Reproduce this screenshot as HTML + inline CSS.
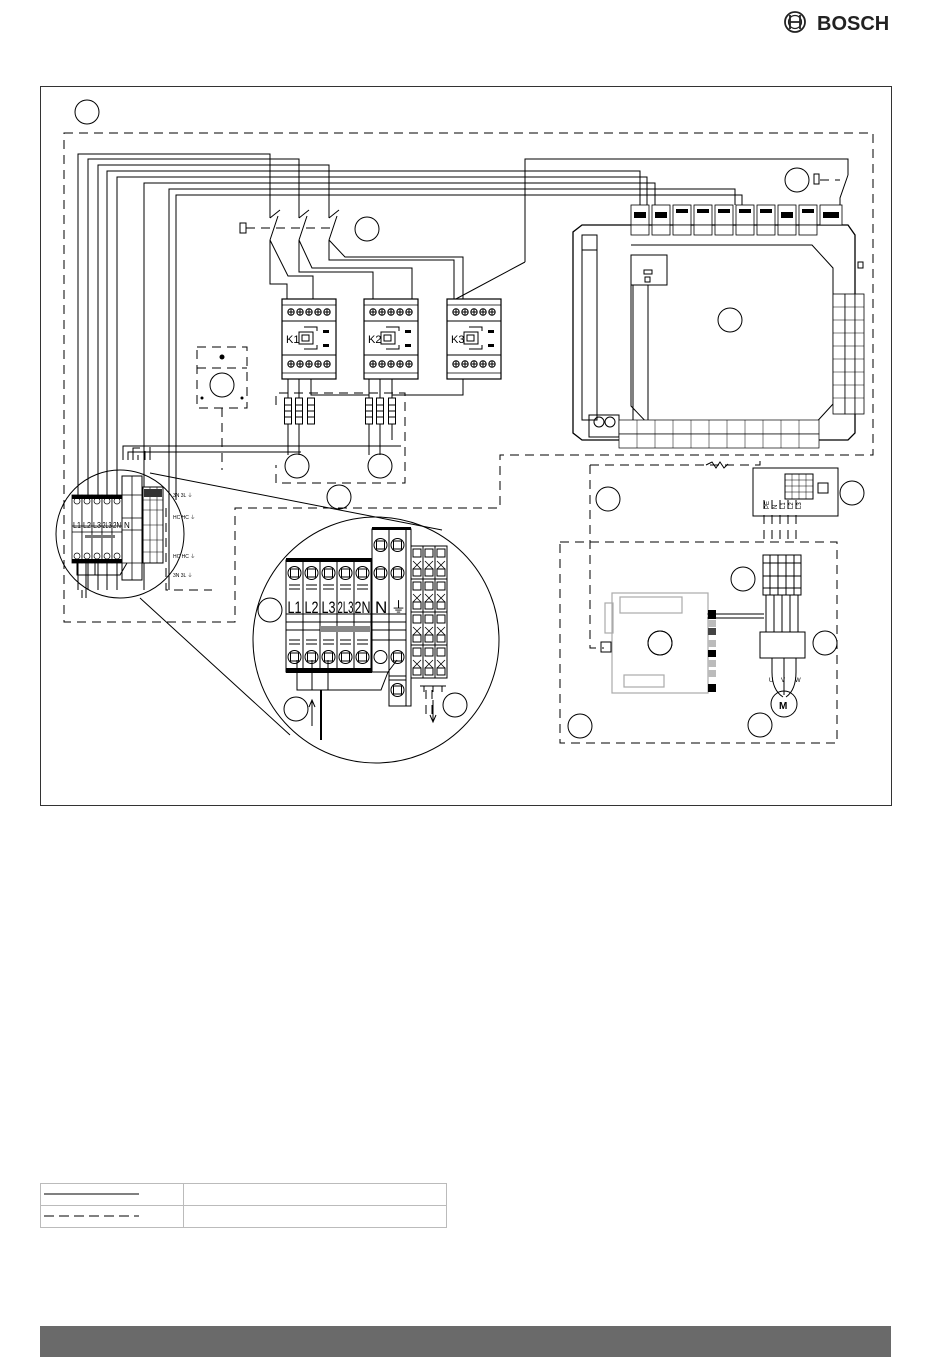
<!DOCTYPE html>
<html><head><meta charset="utf-8"><style>
html,body{margin:0;padding:0;background:#fff}
svg{display:block}
text{font-family:"Liberation Sans",sans-serif}
</style></head><body>
<svg width="950" height="1367" viewBox="0 0 950 1367" xmlns="http://www.w3.org/2000/svg">
<defs>
<g id="scr"><circle r="3.2" fill="none" stroke="#000" stroke-width="1"/><path d="M-3 0H3M0 -3V3" stroke="#000" stroke-width="1"/></g>
<g id="tb"><rect x="0" y="0" width="17" height="112" fill="#fff" stroke="#000" stroke-width="1"/><circle cx="8.5" cy="13" r="6.5" fill="none" stroke="#000"/><rect x="4.5" y="9" width="8" height="8" fill="none" stroke="#000"/><path d="M3 25H14M3 29H14" stroke="#000"/><path d="M0 54H17M0 62H17M0 70H17" stroke="#000"/><path d="M3 80H14M3 84H14" stroke="#000"/><circle cx="8.5" cy="97" r="6.5" fill="none" stroke="#000"/><rect x="4.5" y="93" width="8" height="8" fill="none" stroke="#000"/></g>
<g id="stb"><rect x="0" y="0" width="10" height="68" fill="#fff" stroke="#000" stroke-width="0.8"/><circle cx="5" cy="6" r="3" fill="none" stroke="#000" stroke-width="0.7"/><path d="M0 31H10M0 37H10" stroke="#000" stroke-width="0.7"/><circle cx="5" cy="61" r="3" fill="none" stroke="#000" stroke-width="0.7"/></g>
<g id="rtb"><rect x="0" y="0" width="12" height="33" fill="#fff" stroke="#000"/><rect x="2" y="3" width="8" height="8" fill="none" stroke="#000"/><path d="M2 15L10 23M10 15L2 23" stroke="#000" stroke-width="0.8"/><rect x="2" y="23" width="8" height="7" fill="none" stroke="#000"/></g>
<g id="fuse"><rect x="-3.5" y="0" width="7" height="26" fill="#fff" stroke="#000"/><path d="M-3.5 7H3.5M-3.5 13H3.5M-3.5 19H3.5" stroke="#000"/></g>
<g id="cont"><rect x="0" y="0" width="54" height="80" fill="#fff" stroke="#000" stroke-width="1.2"/><path d="M0 6H54M0 74H54" stroke="#000" stroke-width="0.8"/><use href="#scr" x="9" y="13"/><use href="#scr" x="18" y="13"/><use href="#scr" x="27" y="13"/><use href="#scr" x="36" y="13"/><use href="#scr" x="45" y="13"/><use href="#scr" x="9" y="65"/><use href="#scr" x="18" y="65"/><use href="#scr" x="27" y="65"/><use href="#scr" x="36" y="65"/><use href="#scr" x="45" y="65"/><path d="M0 22H54M0 56H54" stroke="#000"/><rect x="17" y="33" width="14" height="12" fill="none" stroke="#000"/><rect x="20" y="36" width="7" height="6" fill="none" stroke="#000"/><path d="M22 28H35V32M22 50H35V46" fill="none" stroke="#000"/><rect x="41" y="31" width="6" height="3" fill="#000"/><rect x="41" y="45" width="6" height="3" fill="#000"/></g>
</defs>

<circle cx="795" cy="22" r="10" fill="none" stroke="#222" stroke-width="1.8"/>
<path d="M790 15V29M800 15V29M790 22H800" stroke="#222" stroke-width="1.8" fill="none"/>
<circle cx="795" cy="22" r="6.5" fill="none" stroke="#222" stroke-width="1.2"/>
<text x="817" y="30" font-size="20" font-weight="bold" fill="#222">BOSCH</text>

<rect x="40.5" y="86.5" width="851" height="719" fill="none" stroke="#333" stroke-width="1"/>

<g fill="none" stroke="#000" stroke-width="1">
<circle cx="87" cy="112" r="12"/><circle cx="367" cy="229" r="12"/><circle cx="797" cy="180" r="12"/>
<circle cx="730" cy="320" r="12"/><circle cx="222" cy="385" r="12"/><circle cx="297" cy="466" r="12"/>
<circle cx="380" cy="466" r="12"/><circle cx="339" cy="497" r="12"/><circle cx="608" cy="499" r="12"/>
<circle cx="852" cy="493" r="12"/><circle cx="743" cy="579" r="12"/><circle cx="270" cy="610" r="12"/>
<circle cx="825" cy="643" r="12"/><circle cx="660" cy="643" r="12"/><circle cx="296" cy="709" r="12"/>
<circle cx="455" cy="705" r="12"/><circle cx="580" cy="726" r="12"/><circle cx="760" cy="725" r="12"/>

<g stroke-dasharray="9,6">
<path d="M64 133H873V455H500V508H235V622H64Z"/>
<path d="M276 405V393H405V483H276V465"/>
<path d="M166 508V590H212"/>
<path d="M560 542H837V743H560Z"/>
<path d="M590 465H760V455M590 465V648H604"/>
<path d="M197 347H247V408H197Z M197 368H247"/>
<path d="M222 408V470"/>
<path d="M246 228H330"/>
<path d="M820 180H840"/>
<path d="M764 500V540M772 500V540M780 500V540M788 500V540M796 500V540"/>
<path d="M426 690V720M432 690V720"/>
</g>

<path d="M78 590V154H270V218M88 590V159H299V218M98 590V165H329V218M107 590V171H640V205M117 590V177H647V205M144 590V183H655V205M169 590V189H735V205M176 500V195H742V205"/>
<path d="M525 262V159H848V175M454 300L525 262"/>
<path d="M848 175L840 198V205"/>
<path d="M270 218L280 210M270 240L278 216M299 218L309 210M299 240L307 216M329 218L339 210M329 240L337 216"/>
<rect x="240" y="223" width="6" height="10"/>
<path d="M270 240V284H287V299M270 240L288 276H313V299M299 240V272H373V299M299 240L312 268H412V299M329 240V260H454V299M329 240L345 257H463V299"/>
<path d="M288 379V455M299 379V455M311 379V395H369M369 379V455M380 379V455M392 379V395H463V379M392 395V440"/>
<path d="M123 460V446H401M128 460V452H301M133 460V448H140M138 460V455M145 460V451M150 460V447"/>
</g>
<use href="#fuse" x="288" y="398"/><use href="#fuse" x="299" y="398"/><use href="#fuse" x="311" y="398"/>
<use href="#fuse" x="369" y="398"/><use href="#fuse" x="380" y="398"/><use href="#fuse" x="392" y="398"/>
<use href="#cont" x="282" y="299"/><use href="#cont" x="364" y="299"/><use href="#cont" x="447" y="299"/>
<text x="286" y="343" font-size="11">K1</text><text x="368" y="343" font-size="11">K2</text><text x="451" y="343" font-size="11">K3</text>
<circle cx="222" cy="357" r="2.5"/><circle cx="202" cy="398" r="1.5"/><circle cx="242" cy="398" r="1.5"/>

<g fill="none" stroke="#000" stroke-width="1">
<path d="M582 225H848L855 235V433L848 440H582L573 433V232Z" stroke-width="1.3"/>
<path d="M582 235H597V420H582Z M582 250H597"/>
<path d="M631 245H812L833 268V404L812 427H651L631 406V280"/>
<rect x="631" y="255" width="36" height="30"/>
<rect x="644" y="270" width="8" height="4"/><rect x="645" y="277" width="5" height="5"/>
<path d="M633 285V420M648 285V420"/>
<rect x="589" y="415" width="30" height="22"/>
<circle cx="599" cy="422" r="5"/><circle cx="610" cy="422" r="5"/>
</g>
<g stroke="#000" stroke-width="0.8" fill="#fff">
<rect x="631" y="205" width="18" height="20"/><rect x="652" y="205" width="18" height="20"/><rect x="673" y="205" width="18" height="20"/><rect x="694" y="205" width="18" height="20"/><rect x="715" y="205" width="18" height="20"/><rect x="736" y="205" width="18" height="20"/><rect x="757" y="205" width="18" height="20"/><rect x="778" y="205" width="18" height="20"/><rect x="799" y="205" width="18" height="20"/><rect x="820" y="205" width="22" height="20"/>
<rect x="631" y="225" width="18" height="10"/><rect x="652" y="225" width="18" height="10"/><rect x="673" y="225" width="18" height="10"/><rect x="694" y="225" width="18" height="10"/><rect x="715" y="225" width="18" height="10"/><rect x="736" y="225" width="18" height="10"/><rect x="757" y="225" width="18" height="10"/><rect x="778" y="225" width="18" height="10"/><rect x="799" y="225" width="18" height="10"/>
</g>
<g fill="#000">
<rect x="634" y="212" width="12" height="6"/><rect x="655" y="212" width="12" height="6"/><rect x="676" y="209" width="12" height="4"/><rect x="697" y="209" width="12" height="4"/><rect x="718" y="209" width="12" height="4"/><rect x="739" y="209" width="12" height="4"/><rect x="760" y="209" width="12" height="4"/><rect x="781" y="212" width="12" height="6"/><rect x="802" y="209" width="12" height="4"/><rect x="823" y="212" width="16" height="6"/>
</g>
<g stroke="#000" stroke-width="0.8" fill="#fff">
<rect x="833" y="294" width="12" height="120"/><rect x="845" y="294" width="10" height="120"/><rect x="855" y="294" width="9" height="120"/>
</g>
<g stroke="#000" stroke-width="0.6">
<path d="M833 307H864M833 320H864M833 333H864M833 346H864M833 359H864M833 372H864M833 385H864M833 398H864"/>
</g>
<g stroke="#000" stroke-width="0.7" fill="#fff">
<rect x="619" y="420" width="200" height="14"/>
<rect x="619" y="434" width="200" height="14"/>
</g>
<g stroke="#000" stroke-width="0.5">
<path d="M637 420V448M655 420V448M673 420V448M691 420V448M709 420V448M727 420V448M745 420V448M763 420V448M781 420V448M799 420V448"/>
</g>
<rect x="858" y="262" width="5" height="6" fill="none" stroke="#000"/>
<rect x="814" y="174" width="5" height="10" fill="none" stroke="#000"/>

<g fill="none" stroke="#000" stroke-width="1">
<path d="M706 465L712 462L716 468L720 462L724 468L728 464"/>
<rect x="753" y="468" width="85" height="48"/>
<rect x="785" y="474" width="28" height="25"/>
<rect x="818" y="483" width="10" height="10"/>
<path d="M785 480H813M785 486H813M785 492H813M792 474V499M799 474V499M806 474V499" stroke-width="0.5"/>
<rect x="763" y="555" width="38" height="40"/>
<path d="M763 563H801M763 576H801M763 588H801M770 555V595M778 555V595M786 555V595M794 555V595"/>
<path d="M766 595V632M774 595V632M782 595V632M790 595V632M798 595V632"/>
<rect x="760" y="632" width="45" height="26"/>
<path d="M772 658V672Q772 690 783 697M784 658V695M796 658V672Q796 690 786 697"/>
<circle cx="784" cy="704" r="13"/>
<path d="M707 614H764M707 618H764"/>
</g>
<text x="779" y="709" font-size="10" font-weight="bold">M</text>
<text x="769" y="682" font-size="6">U</text><text x="781" y="682" font-size="6">V</text><text x="795" y="682" font-size="6">W</text>
<g font-size="6" transform="rotate(-90)"><text x="-509" y="769">PE</text><text x="-509" y="777">N</text><text x="-509" y="785">L1</text><text x="-509" y="793">L2</text><text x="-509" y="801">L3</text></g>

<g fill="none" stroke="#aaa" stroke-width="1.2">
<rect x="612" y="593" width="96" height="100"/>
<rect x="620" y="597" width="62" height="16"/>
<rect x="624" y="675" width="40" height="12"/>
<rect x="605" y="603" width="8" height="30"/>
</g>
<circle cx="660" cy="643" r="12" fill="none" stroke="#000"/>
<g fill="#000"><rect x="708" y="610" width="8" height="9"/><rect x="708" y="628" width="8" height="7" fill="#444"/><rect x="708" y="650" width="8" height="7"/><rect x="708" y="684" width="8" height="8"/></g>
<g fill="#bbb"><rect x="708" y="620" width="8" height="7"/><rect x="708" y="640" width="8" height="7"/><rect x="708" y="660" width="8" height="7"/><rect x="708" y="670" width="8" height="7"/></g>
<rect x="601" y="642" width="10" height="10" fill="none" stroke="#000"/>

<circle cx="120" cy="534" r="64" fill="none" stroke="#000"/>
<circle cx="376" cy="640" r="123" fill="none" stroke="#000"/>
<path d="M150 473L442 530M140 598L290 735" stroke="#000" fill="none"/>
<g>
<use href="#stb" x="72" y="495"/><use href="#stb" x="82" y="495"/><use href="#stb" x="92" y="495"/><use href="#stb" x="102" y="495"/><use href="#stb" x="112" y="495"/>
<rect x="122" y="476" width="20" height="104" fill="#fff" stroke="#000"/>
<path d="M132 476V580M122 495H142M122 518H142M122 530H142M122 563H142" stroke="#000" fill="none" stroke-width="0.8"/>
<rect x="72" y="495" width="50" height="4" fill="#000"/><rect x="72" y="559" width="50" height="4" fill="#000"/>
<rect x="85" y="535" width="30" height="3" fill="#777"/>
<rect x="143" y="487" width="20" height="76" fill="#fff" stroke="#000"/>
<path d="M150 487V563M157 487V563M143 500H163M143 510H163M143 525H163M143 540H163M143 552H163" stroke="#000" stroke-width="0.6"/>
<rect x="144" y="489" width="18" height="8" fill="#333"/>
<path d="M77 563V575H120L127 563M86 563V575M95 563V575M86 575V598M82 598V590" stroke="#000" fill="none"/>
</g>
<g font-size="8" fill="#000"><text x="73" y="528" textLength="8" lengthAdjust="spacingAndGlyphs">L1</text><text x="83" y="528" textLength="8" lengthAdjust="spacingAndGlyphs">L2</text><text x="93" y="528" textLength="8" lengthAdjust="spacingAndGlyphs">L3</text><text x="102.5" y="528" textLength="9" lengthAdjust="spacingAndGlyphs">2L3</text><text x="113" y="528" textLength="8" lengthAdjust="spacingAndGlyphs">2N</text><text x="124" y="528">N</text></g>
<g font-size="5" fill="#000"><text x="173" y="497">3N 3L ⏚</text><text x="173" y="519">HC HC ⏚</text><text x="173" y="558">HC HC ⏚</text><text x="173" y="577">3N 3L ⏚</text></g>

<use href="#tb" x="286" y="560"/><use href="#tb" x="303" y="560"/><use href="#tb" x="320" y="560"/><use href="#tb" x="337" y="560"/><use href="#tb" x="354" y="560"/>
<rect x="286" y="558" width="86" height="4" fill="#000"/>
<rect x="286" y="668" width="86" height="5" fill="#000"/>
<rect x="320" y="626" width="51" height="6" fill="#888"/>
<g fill="none" stroke="#000">
<rect x="372" y="529" width="17" height="143" fill="#fff"/><rect x="389" y="529" width="17" height="177" fill="#fff"/>
<rect x="406" y="529" width="5" height="177"/>
<circle cx="380.5" cy="545" r="6.5"/><rect x="376.5" y="541" width="8" height="8"/>
<circle cx="397.5" cy="545" r="6.5"/><rect x="393.5" y="541" width="8" height="8"/>
<circle cx="380.5" cy="573" r="6.5"/><rect x="376.5" y="569" width="8" height="8"/>
<circle cx="397.5" cy="573" r="6.5"/><rect x="393.5" y="569" width="8" height="8"/>
<path d="M372 614H406M372 622H406M372 630H406M372 640H406"/>
<circle cx="380.5" cy="657" r="6.5"/><circle cx="397.5" cy="657" r="6.5"/><rect x="393.5" y="653" width="8" height="8"/>
<circle cx="397.5" cy="690" r="6.5"/><rect x="393.5" y="686" width="8" height="8"/>
<path d="M389 676H406M389 680H406"/>
</g>
<rect x="372" y="527" width="39" height="3" fill="#000"/>
<use href="#rtb" x="411" y="546"/><use href="#rtb" x="423" y="546"/><use href="#rtb" x="435" y="546"/>
<use href="#rtb" x="411" y="579"/><use href="#rtb" x="423" y="579"/><use href="#rtb" x="435" y="579"/>
<use href="#rtb" x="411" y="612"/><use href="#rtb" x="423" y="612"/><use href="#rtb" x="435" y="612"/>
<use href="#rtb" x="411" y="645"/><use href="#rtb" x="423" y="645"/><use href="#rtb" x="435" y="645"/>
<g fill="none" stroke="#000">
<path d="M297 660V690H381L388 672M312 660V690M328 660V690M397 660L388 672"/>
<path d="M321 690V740" stroke-width="2"/>
<path d="M312 726V700M309 707L312 700L315 707"/>
<path d="M420 686H446M424 686V692M433 686V692M442 686V692"/>
<path d="M433 700V722M430 715L433 722L436 715"/>
</g>
<g font-size="17" fill="#000"><text x="287.5" y="613" textLength="14" lengthAdjust="spacingAndGlyphs">L1</text><text x="304.5" y="613" textLength="14" lengthAdjust="spacingAndGlyphs">L2</text><text x="321.5" y="613" textLength="14" lengthAdjust="spacingAndGlyphs">L3</text><text x="337.5" y="613" textLength="16" lengthAdjust="spacingAndGlyphs">2L3</text><text x="354.5" y="613" textLength="16" lengthAdjust="spacingAndGlyphs">2N</text><text x="375" y="613">N</text><text x="391" y="612" font-size="15">⏚</text></g>

<g fill="none" stroke="#bbb" stroke-width="1">
<rect x="40.5" y="1183.5" width="406" height="44"/><path d="M40 1205.5H446M183.5 1183V1227"/>
</g>
<path d="M44 1194H139" stroke="#000" stroke-width="1"/>
<path d="M44 1216H139" stroke="#000" stroke-width="1" stroke-dasharray="10,5"/>

<rect x="40" y="1326" width="851" height="31" fill="#6a6a6a"/>
</svg>
</body></html>
